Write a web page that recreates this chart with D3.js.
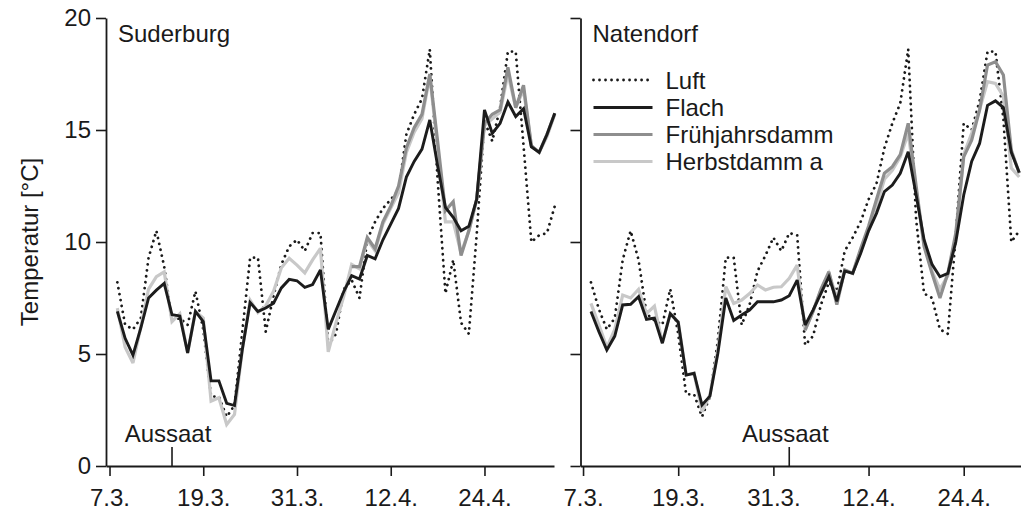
<!DOCTYPE html>
<html><head><meta charset="utf-8">
<script src="https://cdn.jsdelivr.net/npm/d3@7"></script>
<style>
html,body{margin:0;padding:0;background:#fff;}
svg{display:block;}
text{font-family:"Liberation Sans",Arial,Helvetica,sans-serif;fill:#1a1a1a;}
</style></head>
<body>
<svg id="chart" width="1021" height="518"></svg>
<script>
// ---- data (day index: 0 = 7.3.) ----
const tickDays = [0, 12, 24, 36, 48];
const tickLabels = ["7.3.", "19.3.", "31.3.", "12.4.", "24.4."];
const yTicks = [0, 5, 10, 15, 20];
const seriesNames = ["Luft", "Flach", "Frühjahrsdamm", "Herbstdamm a"];

const suderburgDays = d3.range(1, 58);
const suderburgLuft = [8.2,6.3,6.1,6.6,9.3,10.5,8.9,6.5,6.6,6.3,7.8,6.1,3.1,3.1,2.2,2.7,6.0,9.3,9.3,6.0,7.6,9.0,9.8,10.1,9.6,10.4,10.4,5.4,5.9,7.9,8.3,7.5,10.1,10.9,11.5,11.9,12.3,14.8,15.7,16.4,18.6,12.8,7.7,9.2,6.4,5.9,10.3,15.4,14.5,16.0,18.5,18.5,14.3,10.0,10.3,10.4,11.6];
const suderburgFlach = [6.9,5.7,4.95,6.15,7.5,7.85,8.15,6.75,6.7,5.05,6.9,6.45,3.8,3.8,2.8,2.7,5.2,7.3,6.9,7.05,7.27,7.95,8.33,8.27,7.98,8.1,8.75,6.1,6.95,7.8,8.5,8.35,9.4,9.25,10.1,10.8,11.5,12.9,13.6,14.15,15.45,13.4,11.55,11.1,10.5,10.7,11.9,15.9,14.85,15.3,16.25,15.6,15.95,14.25,14.0,14.8,15.75];
const suderburgFruehjahr = [null,null,null,null,null,null,null,null,null,null,null,null,null,null,null,null,null,null,null,null,null,null,null,null,null,null,null,null,null,null,8.9,8.9,10.2,9.7,10.9,11.6,12.5,14.2,15.1,15.7,17.5,14.5,11.4,11.8,9.4,10.5,11.9,15.3,15.7,15.9,17.8,16.0,17.0,14.3,14.0,14.8,15.75];
const suderburgHerbst = [7.05,5.3,4.6,6.2,7.9,8.45,8.67,6.45,6.8,5.05,6.9,6.6,2.9,3.05,1.85,2.3,5.2,7.4,6.85,7.15,7.8,8.85,9.27,8.97,8.62,9.2,9.72,5.1,6.4,7.6,9.0,8.8,10.1,9.6,10.8,11.5,12.2,14.0,14.9,15.5,17.4,14.2,10.9,10.9,9.5,10.5,11.9,15.2,15.5,15.8,17.5,16.0,16.8,14.3,14.0,14.7,15.7];

const natendorfDays = d3.range(1, 56);
const natendorfLuft = [8.2,7.0,6.1,6.6,9.2,10.5,9.2,6.8,6.5,6.3,7.9,5.9,3.2,3.2,2.2,3.1,5.6,9.3,9.3,6.3,7.2,8.7,9.4,10.2,9.6,10.4,10.3,5.4,5.8,7.2,8.2,7.8,9.6,10.2,10.9,11.9,12.6,14.2,15.3,16.2,18.6,11.0,7.7,7.5,6.1,5.9,10.3,15.3,15.0,16.3,18.5,18.5,15.5,10.0,10.5];
const natendorfFlach = [6.9,6.0,5.18,5.8,7.19,7.22,7.56,6.55,6.6,5.48,6.8,6.42,4.06,4.14,2.72,3.12,5.03,7.5,6.5,6.74,6.96,7.33,7.33,7.33,7.41,7.6,8.3,6.29,6.96,7.71,8.45,7.35,8.7,8.6,9.49,10.5,11.28,12.25,12.54,13.07,14.03,12.1,10.1,9.0,8.45,8.6,10.0,12.1,13.6,14.4,16.1,16.3,16.0,14.0,13.1];
const natendorfFruehjahr = [null,null,null,null,null,null,null,null,null,null,null,null,null,null,null,null,null,null,null,null,null,null,null,null,null,null,null,6.07,6.9,7.9,8.67,7.2,8.75,8.6,9.7,10.7,11.9,13.07,13.36,13.9,15.3,12.5,9.8,8.6,7.5,8.6,10.4,13.8,14.55,15.9,17.9,18.05,17.46,14.1,13.07];
const natendorfHerbst = [7.26,6.3,5.3,6.1,7.63,7.5,7.89,6.8,7.14,5.5,6.8,6.44,4.06,4.14,2.42,3.17,5.2,8.0,7.26,7.41,7.7,8.08,7.86,7.98,8.0,8.38,8.97,6.07,6.9,7.86,8.6,7.5,8.75,8.6,9.6,10.5,11.6,12.8,13.2,13.8,14.85,12.3,9.9,8.7,7.9,8.5,10.2,13.9,14.85,15.9,17.16,17.08,16.5,13.3,12.9];

const aussaatDays = [8, 26];   // 15.3. and 2.4.

// ---- styles ----
const styles = {
  "Luft": {stroke: "#1a1a1a", width: 2.8, dash: "0.01,6", cap: "round"},
  "Herbstdamm a": {stroke: "#c8c8c8", width: 3.2, dash: null, cap: "butt"},
  "Frühjahrsdamm": {stroke: "#8e8e8e", width: 3.2, dash: null, cap: "butt"},
  "Flach": {stroke: "#1c1c1c", width: 2.9, dash: null, cap: "butt"}
};
const drawOrder = ["Luft", "Herbstdamm a", "Frühjahrsdamm", "Flach"];

const panels = [
  {title: "Suderburg", days: suderburgDays,
   series: {"Luft": suderburgLuft, "Flach": suderburgFlach, "Frühjahrsdamm": suderburgFruehjahr, "Herbstdamm a": suderburgHerbst},
   domain: [-0.45, 56.9], range: [106, 554], labels: true, aussaat: aussaatDays[0], legend: false},
  {title: "Natendorf", days: natendorfDays,
   series: {"Luft": natendorfLuft, "Flach": natendorfFlach, "Frühjahrsdamm": natendorfFruehjahr, "Herbstdamm a": natendorfHerbst},
   domain: [-0.32, 55.6], range: [580.5, 1024], labels: false, aussaat: aussaatDays[1], legend: true}
];

const svg = d3.select("#chart");
const y = d3.scaleLinear().domain([0, 20]).range([466, 18]);
const FS = 24;

panels.forEach(p => {
  const x = d3.scaleLinear().domain(p.domain).range(p.range);
  const g = svg.append("g");

  // y axis
  const ya = d3.axisLeft(y).tickValues(yTicks).tickSize(10).tickPadding(5).tickSizeOuter(0);
  if (!p.labels) ya.tickFormat("");
  const yg = g.append("g").attr("transform", `translate(${p.range[0]},0)`).call(ya);
  yg.selectAll("text").style("font-size", FS + "px").attr("fill", "#1a1a1a");

  // x axis
  const xa = d3.axisBottom(x).tickValues(tickDays).tickFormat((d, i) => tickLabels[i])
    .tickSize(10).tickPadding(13).tickSizeOuter(0);
  const xg = g.append("g").attr("transform", `translate(0,${y(0)})`).call(xa);
  xg.selectAll("text").style("font-size", FS + "px").attr("fill", "#1a1a1a");

  [yg, xg].forEach(a => {
    a.select(".domain").attr("stroke", "#1a1a1a").attr("stroke-width", 1.8);
    a.selectAll(".tick line").attr("stroke", "#1a1a1a").attr("stroke-width", 1.6);
    a.selectAll("text").attr("font-family", "Liberation Sans, Arial, sans-serif");
  });

  // lines
  drawOrder.forEach(name => {
    const vals = p.series[name];
    const st = styles[name];
    const line = d3.line()
      .defined((d, i) => vals[i] !== null)
      .x((d, i) => x(p.days[i]))
      .y((d, i) => y(vals[i]));
    g.append("path").datum(vals)
      .attr("d", line)
      .attr("fill", "none")
      .attr("stroke", st.stroke)
      .attr("stroke-width", st.width)
      .attr("stroke-linejoin", "miter")
      .attr("stroke-miterlimit", 3)
      .attr("stroke-linecap", st.cap)
      .attr("stroke-dasharray", st.dash);
  });

  // title
  g.append("text").attr("x", p.range[0] + 12).attr("y", 42)
    .style("font-size", FS + "px").text(p.title);

  // Aussaat marker
  const ax = x(p.aussaat);
  g.append("line").attr("x1", ax).attr("x2", ax).attr("y1", y(0)).attr("y2", y(0) - 19)
    .attr("stroke", "#1a1a1a").attr("stroke-width", 1.6);
  g.append("text").attr("x", ax - 4).attr("y", 442).attr("text-anchor", "middle")
    .style("font-size", FS + "px").text("Aussaat");

  // legend
  if (p.legend) {
    const lx0 = p.range[0] + 13, lx1 = p.range[0] + 72, tx = p.range[0] + 85;
    const ly = [80, 107.5, 134.5, 161.5];
    seriesNames.forEach((name, i) => {
      const st = styles[name];
      g.append("line").attr("x1", lx0).attr("x2", lx1).attr("y1", ly[i]).attr("y2", ly[i])
        .attr("stroke", st.stroke).attr("stroke-width", st.width)
        .attr("stroke-linecap", st.cap).attr("stroke-dasharray", st.dash);
      g.append("text").attr("x", tx).attr("y", ly[i] + 8.5)
        .style("font-size", FS + "px").text(name);
    });
  }
});

// y axis title
svg.append("text")
  .attr("transform", `translate(38,${y(10)}) rotate(-90)`)
  .attr("text-anchor", "middle")
  .style("font-size", FS + "px")
  .text("Temperatur [°C]");
</script>
</body></html>
